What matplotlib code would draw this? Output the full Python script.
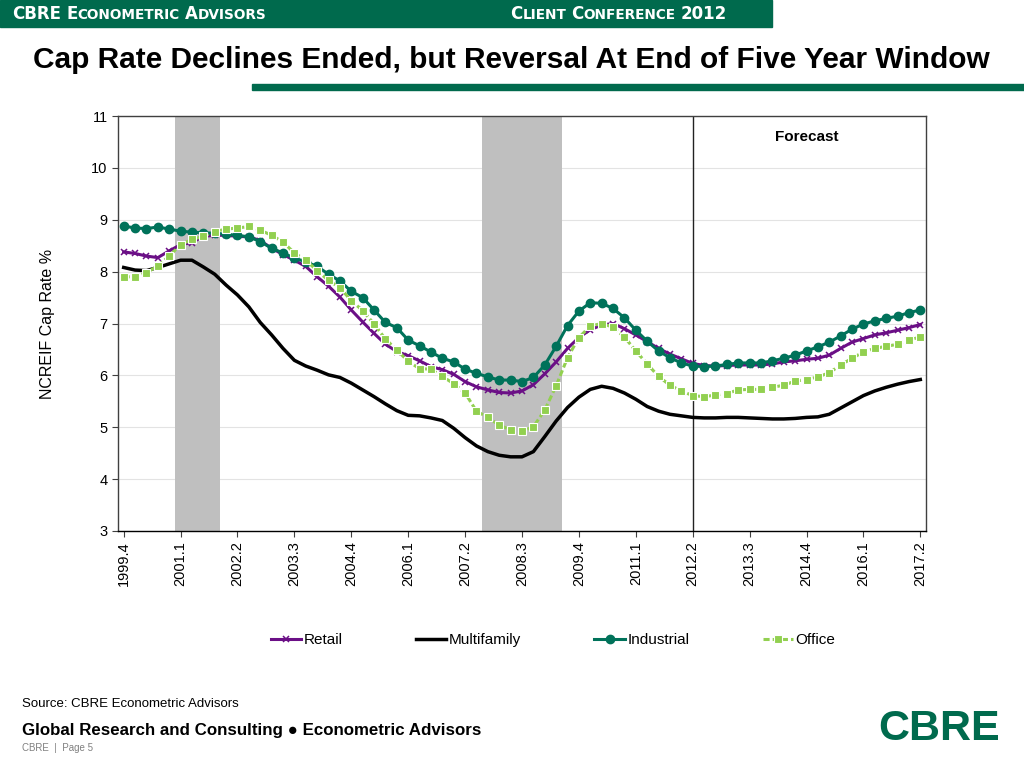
import matplotlib
matplotlib.use("Agg")
import matplotlib.pyplot as plt
from matplotlib import font_manager as fm
from matplotlib.patches import Rectangle

# fonts
names = {f.name for f in fm.fontManager.ttflist}
SANS = "Liberation Sans" if "Liberation Sans" in names else "DejaVu Sans"
NARROW = "Liberation Sans Narrow" if "Liberation Sans Narrow" in names else SANS
plt.rcParams["font.family"] = [SANS, "DejaVu Sans"]

# data: quarterly, 1999.4 .. 2017.2
tick_labels = ["1999.4", "2001.1", "2002.2", "2003.3", "2004.4", "2006.1", "2007.2",
               "2008.3", "2009.4", "2011.1", "2012.2", "2013.3", "2014.4", "2016.1", "2017.2"]

retail = [8.38, 8.35, 8.30, 8.27, 8.40, 8.52, 8.56, 8.68, 8.70, 8.70, 8.68, 8.67, 8.60, 8.45,
          8.33, 8.22, 8.10, 7.90, 7.72, 7.51, 7.26, 7.03, 6.81, 6.60, 6.46, 6.38, 6.28, 6.17,
          6.11, 6.02, 5.88, 5.78, 5.72, 5.67, 5.66, 5.70, 5.82, 6.03, 6.26, 6.52, 6.73, 6.88,
          6.97, 7.00, 6.90, 6.78, 6.65, 6.52, 6.41, 6.32, 6.23, 6.19, 6.18, 6.19, 6.20, 6.20,
          6.20, 6.22, 6.26, 6.28, 6.31, 6.33, 6.39, 6.52, 6.64, 6.71, 6.78, 6.82, 6.87, 6.92,
          6.98]

multifamily = [8.08, 8.03, 8.02, 8.08, 8.15, 8.22, 8.22, 8.09, 7.95, 7.74, 7.55, 7.32, 7.02,
               6.78, 6.52, 6.29, 6.18, 6.10, 6.01, 5.96, 5.85, 5.72, 5.59, 5.45, 5.32, 5.23,
               5.22, 5.18, 5.13, 4.98, 4.80, 4.64, 4.53, 4.46, 4.43, 4.43, 4.53, 4.82, 5.12,
               5.38, 5.58, 5.73, 5.79, 5.75, 5.66, 5.54, 5.40, 5.31, 5.25, 5.22, 5.19, 5.18,
               5.18, 5.19, 5.19, 5.18, 5.17, 5.16, 5.16, 5.17, 5.19, 5.20, 5.25, 5.37, 5.49,
               5.61, 5.70, 5.77, 5.83, 5.88, 5.92]

industrial = [8.88, 8.84, 8.83, 8.86, 8.82, 8.78, 8.76, 8.75, 8.74, 8.72, 8.70, 8.67, 8.58,
              8.45, 8.36, 8.26, 8.19, 8.10, 7.95, 7.82, 7.62, 7.50, 7.26, 7.02, 6.92, 6.68,
              6.57, 6.45, 6.33, 6.26, 6.12, 6.04, 5.97, 5.91, 5.91, 5.88, 5.96, 6.20, 6.56,
              6.96, 7.24, 7.40, 7.39, 7.29, 7.11, 6.87, 6.66, 6.47, 6.34, 6.24, 6.18, 6.17,
              6.18, 6.21, 6.24, 6.24, 6.24, 6.28, 6.33, 6.39, 6.47, 6.55, 6.64, 6.76, 6.89,
              6.99, 7.05, 7.10, 7.14, 7.21, 7.26]

office = [7.90, 7.90, 7.98, 8.11, 8.30, 8.52, 8.62, 8.68, 8.77, 8.82, 8.84, 8.87, 8.80, 8.70,
          8.57, 8.36, 8.22, 8.02, 7.83, 7.69, 7.44, 7.25, 6.99, 6.70, 6.49, 6.27, 6.13, 6.12,
          5.98, 5.84, 5.66, 5.31, 5.19, 5.04, 4.95, 4.92, 5.01, 5.33, 5.80, 6.34, 6.73, 6.95,
          7.00, 6.93, 6.74, 6.47, 6.22, 5.98, 5.81, 5.70, 5.61, 5.59, 5.62, 5.65, 5.72, 5.73,
          5.73, 5.77, 5.81, 5.89, 5.92, 5.97, 6.05, 6.20, 6.33, 6.45, 6.52, 6.56, 6.60, 6.68,
          6.74]

# recessions (quarter index ranges) and forecast start
recessions = [(5, 8), (32, 38)]
forecast_start = 50

GREEN = "#006A4D"
PURPLE = "#6B0F86"
TEAL = "#00725A"
LIGHT = "#92D050"

x = list(range(len(retail)))

fig = plt.figure(figsize=(10.24, 7.68), dpi=100)
W, H = 1024, 768
ax = fig.add_axes([118 / W, 1 - 531 / H, (926 - 118) / W, (531 - 116) / H])

for a, b in recessions:
    ax.axvspan(a - 0.5, b + 0.5, color="#BFBFBF", lw=0, zorder=1)
ax.axvline(forecast_start, color="#222222", lw=1, zorder=2)

ax.plot(x, retail, color=PURPLE, lw=2.2, marker="x", ms=5, mew=1.1, label="Retail", zorder=3)
ax.plot(x, multifamily, color="black", lw=2.5, label="Multifamily", zorder=3)
ax.plot(x, industrial, color=TEAL, lw=2.2, marker="o", ms=6, label="Industrial", zorder=4)
ax.plot(x, office, color=LIGHT, lw=2.2, ls=(0, (2, 1)), marker="s", ms=6, mec="white",
        mew=0.8, label="Office", zorder=5)

ax.set_xlim(-0.5, len(x) - 0.5)
ax.set_ylim(3, 11)
ax.set_yticks(range(3, 12))
ax.set_xticks(x[::5])
ax.set_xticklabels(tick_labels, rotation=90, fontsize=10.5)
ax.tick_params(axis="y", labelsize=10.5, length=4, color="#404040")
ax.tick_params(axis="x", length=4, color="#404040")
ax.grid(axis="y", color="#E3E3E3", lw=0.8, zorder=0)
ax.set_axisbelow(True)
for s in ax.spines.values():
    s.set_color("#404040")
    s.set_linewidth(1)
ax.spines["bottom"].set_color("black")
ax.set_ylabel("NCREIF Cap Rate %", fontsize=11.5, labelpad=26)

ax.text(60, 10.6, "Forecast", fontsize=11, fontweight="bold", ha="center", va="center")

fig.legend(loc="center", bbox_to_anchor=(553 / W, 1 - 640 / H), ncol=4, frameon=False,
           fontsize=11, handlelength=2.0, handletextpad=0.15, columnspacing=4.8, numpoints=1)


def small_caps(x0, y0, text, big, small, **kw):
    # fake small caps: first letter of each word large, the rest smaller
    r = fig.canvas.get_renderer()
    xp = x0
    for w in text.split(" "):
        parts = []
        if w.isupper() or w.isdigit():
            parts.append((w, big))
        else:
            parts.append((w[0].upper(), big))
            parts.append((w[1:].upper(), small))
        for s, fs in parts:
            t = fig.text(xp / W, 1 - y0 / H, s, fontsize=fs, va="baseline", ha="left", **kw)
            xp += t.get_window_extent(r).width
        sp = fig.text(0, 0, " ", fontsize=big, **kw)
        xp += sp.get_window_extent(r).width * 0.9
        sp.remove()


# header band and title
fig.patches.append(Rectangle((0, 1 - 27 / H), 772 / W, 27 / H, transform=fig.transFigure,
                             color=GREEN, zorder=0))
small_caps(12, 19, "CBRE Econometric Advisors", 12, 9.8, color="white", fontweight="bold",
           family=["DejaVu Sans"])
small_caps(510, 19, "Client Conference 2012", 12, 9.8, color="white", fontweight="bold",
           family=["DejaVu Sans"])
fig.text(511 / W, 1 - 60 / H, "Cap Rate Declines Ended, but Reversal At End of Five Year Window",
         family=[NARROW, "DejaVu Sans"], fontsize=21.5, fontweight="bold", ha="center", va="center")
fig.patches.append(Rectangle((252 / W, 1 - 90 / H), 1 - 252 / W, 6 / H, transform=fig.transFigure,
                             color=GREEN, zorder=0))

# footer
fig.text(22 / W, 1 - 704 / H, "Source: CBRE Econometric Advisors", fontsize=9.5, va="center")
fig.text(22 / W, 1 - 731 / H, "Global Research and Consulting \u25cf Econometric Advisors",
         fontsize=12.2, fontweight="bold", va="center")
fig.text(22 / W, 1 - 748 / H, "CBRE  |  Page 5", fontsize=7, color="#808080", va="center")
fig.text(1000 / W, 1 - 729 / H, "CBRE", fontsize=31, fontweight="bold", color=GREEN,
         ha="right", va="center")

fig.savefig("out.png", dpi=100)
